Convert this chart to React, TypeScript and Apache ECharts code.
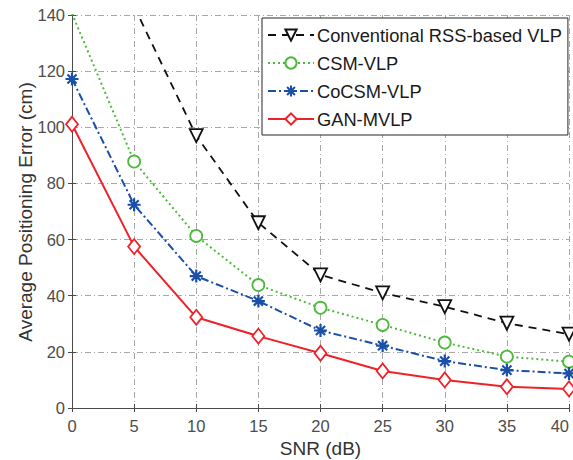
import React, { useEffect, useRef } from "react";
import * as echarts from "echarts";

const snr = [0, 5, 10, 15, 20, 25, 30, 35, 40];
const conventional = [null, 143, 97, 66, 47.4, 41, 36.1, 30.2, 26.3];
const csm = [140.5, 87.8, 61.3, 43.8, 35.7, 29.6, 23.3, 18.3, 16.5];
const cocsm = [117.2, 72.4, 47.0, 38.1, 27.6, 22.2, 16.7, 13.5, 12.3];
const gan = [101.1, 57.5, 32.3, 25.6, 19.5, 13.2, 10.0, 7.6, 6.8];
const seriesNames = ["Conventional RSS-based VLP", "CSM-VLP", "CoCSM-VLP", "GAN-MVLP"];

const FONT = "'Liberation Sans', Arial, Helvetica, sans-serif";
const asterisk =
  "path://M0,-10 L0,10 M-10,0 L10,0 M-7,-7 L7,7 M-7,7 L7,-7";

export default function App() {
  const ref = useRef<HTMLDivElement>(null);
  useEffect(() => {
    if (!ref.current) return;
    document.body.style.margin = "0";
    document.body.style.overflow = "hidden";
    const chart = echarts.init(ref.current, undefined, { renderer: "svg" });
    const pair = (arr: (number | null)[]) => snr.map((x, i) => [x, arr[i]]);
    const gridLine = { show: true, lineStyle: { color: "#a8a8a8", width: 1, type: [6, 3, 1, 3] } };
    const axisColor = "#4a4a4a";
    const hiddenAxis = {
      axisLabel: { show: false },
      axisLine: { show: true, lineStyle: { color: axisColor } },
      axisTick: { show: true, inside: true, length: 4, lineStyle: { color: axisColor } },
      splitLine: { show: false },
    };
    chart.setOption({
      animation: false,
      backgroundColor: "#fff",
      textStyle: { fontFamily: FONT },
      grid: {
        left: 72,
        right: 4,
        top: 15,
        bottom: 52,
        containLabel: false,
        outerBoundsMode: "none",
      },
      legend: {
        left: 262,
        top: 18,
        orient: "vertical",
        itemWidth: 46,
        itemHeight: 14,
        itemGap: 10,
        padding: [8, 6, 7, 5],
        backgroundColor: "#fff",
        borderColor: "#262626",
        borderWidth: 1,
        borderRadius: 0,
        textStyle: { fontSize: 18.3, color: "#1a1a1a", fontFamily: FONT, padding: [0, 0, 0, -2] },
        data: seriesNames,
      },
      xAxis: [
        {
          type: "value",
          min: 0,
          max: 40,
          interval: 5,
          name: "SNR (dB)",
          nameLocation: "middle",
          nameGap: 23,
          nameTextStyle: { fontSize: 19, color: "#333", fontFamily: FONT },
          axisLine: { show: true, lineStyle: { color: axisColor } },
          axisTick: { show: true, inside: true, length: 4, lineStyle: { color: axisColor } },
          axisLabel: {
            fontSize: 16.5,
            color: "#4d4d4d",
            margin: 9,
            fontFamily: FONT,
            alignMaxLabel: "right",
          },
          splitLine: gridLine,
        },
        { type: "value", min: 0, max: 40, interval: 5, position: "top", ...hiddenAxis },
      ],
      yAxis: [
        {
          type: "value",
          min: 0,
          max: 140,
          interval: 20,
          axisLine: { show: true, lineStyle: { color: axisColor } },
          axisTick: { show: true, inside: true, length: 4, lineStyle: { color: axisColor } },
          axisLabel: { fontSize: 16.5, color: "#4d4d4d", margin: 7, fontFamily: FONT },
          splitLine: gridLine,
        },
        { type: "value", min: 0, max: 140, interval: 20, position: "right", ...hiddenAxis },
      ],
      graphic: [
        {
          type: "text",
          x: 25,
          y: 212,
          rotation: Math.PI / 2,
          style: {
            text: "Average Positioning Error (cm)",
            fontSize: 19,
            fill: "#333",
            fontFamily: FONT,
            align: "center",
            verticalAlign: "middle",
          },
        },
      ],
      series: [
        {
          name: seriesNames[0],
          type: "line",
          data: pair(conventional),
          clip: true,
          symbol: "triangle",
          symbolRotate: 180,
          symbolSize: 13,
          showAllSymbol: true,
          lineStyle: { color: "#111", width: 1.8, type: [8, 6] },
          itemStyle: { color: "#fff", borderColor: "#111", borderWidth: 1.8 },
          z: 3,
        },
        {
          name: seriesNames[1],
          type: "line",
          data: pair(csm),
          clip: true,
          symbol: "circle",
          symbolSize: 12,
          lineStyle: { color: "#4cbb3c", width: 2, type: [2, 3] },
          itemStyle: { color: "#fff", borderColor: "#4cbb3c", borderWidth: 1.8 },
          z: 4,
        },
        {
          name: seriesNames[2],
          type: "line",
          data: pair(cocsm),
          clip: true,
          symbol: asterisk,
          symbolSize: 13,
          lineStyle: { color: "#1a4fa8", width: 2, type: [8, 3, 2, 3] },
          itemStyle: { color: "none", borderColor: "#1a4fa8", borderWidth: 2.2 },
          z: 5,
        },
        {
          name: seriesNames[3],
          type: "line",
          data: pair(gan),
          clip: true,
          symbol: "diamond",
          symbolSize: [12, 15],
          lineStyle: { color: "#ee2228", width: 2 },
          itemStyle: { color: "#fff", borderColor: "#ee2228", borderWidth: 1.8 },
          z: 6,
        },
      ],
    });
    return () => chart.dispose();
  }, []);
  return (
    <div
      ref={ref}
      style={{ position: "fixed", left: 0, top: 0, width: 573, height: 460, overflow: "hidden" }}
    />
  );
}
